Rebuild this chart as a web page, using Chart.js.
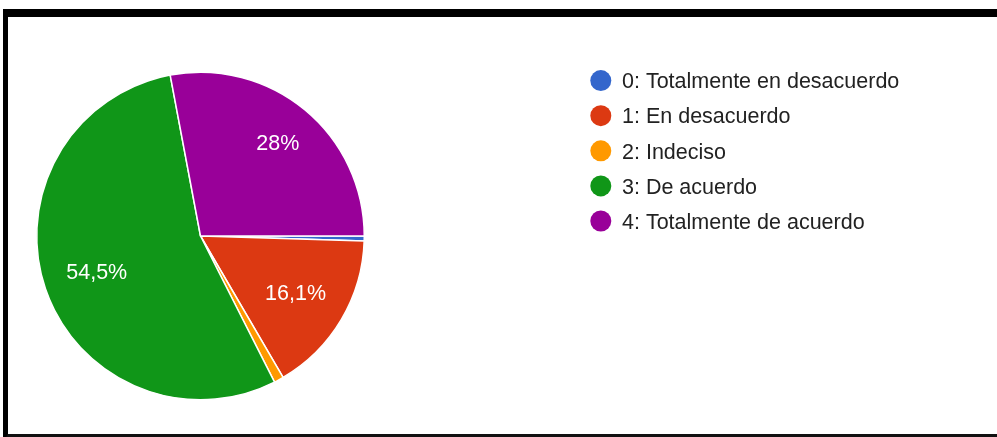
<!DOCTYPE html>
<html>
<head>
<meta charset="utf-8">
<script src="https://cdn.jsdelivr.net/npm/chart.js@4/dist/chart.umd.min.js"></script>
<style>
  html, body { margin: 0; padding: 0; background: #fff; overflow: hidden; }
  .frame {
    position: absolute; left: 3px; top: 9px; width: 1100px; height: 433px;
    box-sizing: border-box; border-top: 8px solid #000; border-left: 5px solid #000;
    border-bottom: 8px solid #111;
  }
  #pie { position: absolute; left: 0; top: 0; }
</style>
</head>
<body>
<div class="frame"></div>
<canvas id="pie" width="997" height="437"></canvas>
<script>
const labels = ['0: Totalmente en desacuerdo', '1: En desacuerdo', '2: Indeciso', '3: De acuerdo', '4: Totalmente de acuerdo']
const respuestas = [1, 34, 2, 115, 59]
const colores = ['#3366cc', '#dc3912', '#ff9900', '#109618', '#990099']

const FONT = '"Liberation Sans", Arial, sans-serif'
const total = respuestas.reduce((a, b) => a + b, 0)

function pct(v) {
  const p = Math.round(v / total * 1000) / 10
  return String(p).replace('.', ',') + '%'
}

// percentage text inside each big slice, pushed out so the far corner
// of the text box sits at a fixed share of the radius
const sliceLabels = {
  id: 'sliceLabels',
  afterDatasetsDraw(chart) {
    const ctx = chart.ctx
    const meta = chart.getDatasetMeta(0)
    ctx.save()
    ctx.font = '21.5px ' + FONT
    ctx.fillStyle = '#ffffff'
    ctx.textAlign = 'center'
    ctx.textBaseline = 'alphabetic'
    meta.data.forEach((arc, i) => {
      const v = respuestas[i]
      if (v / total < 0.05) return
      const txt = pct(v)
      const w = ctx.measureText(txt).width
      const h = 14.5
      const mid = (arc.startAngle + arc.endAngle) / 2
      const ux = Math.cos(mid), uy = Math.sin(mid)
      const R = arc.outerRadius * 0.86
      const b = Math.abs(ux) * w / 2 + Math.abs(uy) * h / 2
      const c = (w * w + h * h) / 4 - R * R
      const d = -b + Math.sqrt(b * b - c)
      const x = arc.x + ux * d
      const y = arc.y + uy * d
      ctx.fillText(txt, x, y + h / 2)
    })
    ctx.restore()
  }
}

// legend on the right: round swatch and label per category
const sideLegend = {
  id: 'sideLegend',
  afterDraw(chart) {
    const ctx = chart.ctx
    ctx.save()
    ctx.font = '21.5px ' + FONT
    ctx.textAlign = 'left'
    ctx.textBaseline = 'alphabetic'
    labels.forEach((lab, i) => {
      const cy = 80.6 + i * 35.1
      ctx.beginPath()
      ctx.arc(600.8, cy, 10.5, 0, Math.PI * 2)
      ctx.fillStyle = colores[i]
      ctx.fill()
      ctx.fillStyle = '#222222'
      ctx.fillText(lab, 622, cy + 7.7)
    })
    ctx.restore()
  }
}

new Chart(document.getElementById('pie'), {
  type: 'pie',
  data: {
    labels: labels,
    datasets: [{
      data: respuestas,
      backgroundColor: colores,
      borderColor: '#ffffff',
      borderWidth: 1.5
    }]
  },
  options: {
    responsive: false,
    animation: false,
    rotation: 90,
    layout: {
      padding: { left: 36, right: 632, top: 71, bottom: 36 }
    },
    plugins: {
      legend: { display: false },
      tooltip: { enabled: false }
    }
  },
  plugins: [sliceLabels, sideLegend]
})
</script>
</body>
</html>
